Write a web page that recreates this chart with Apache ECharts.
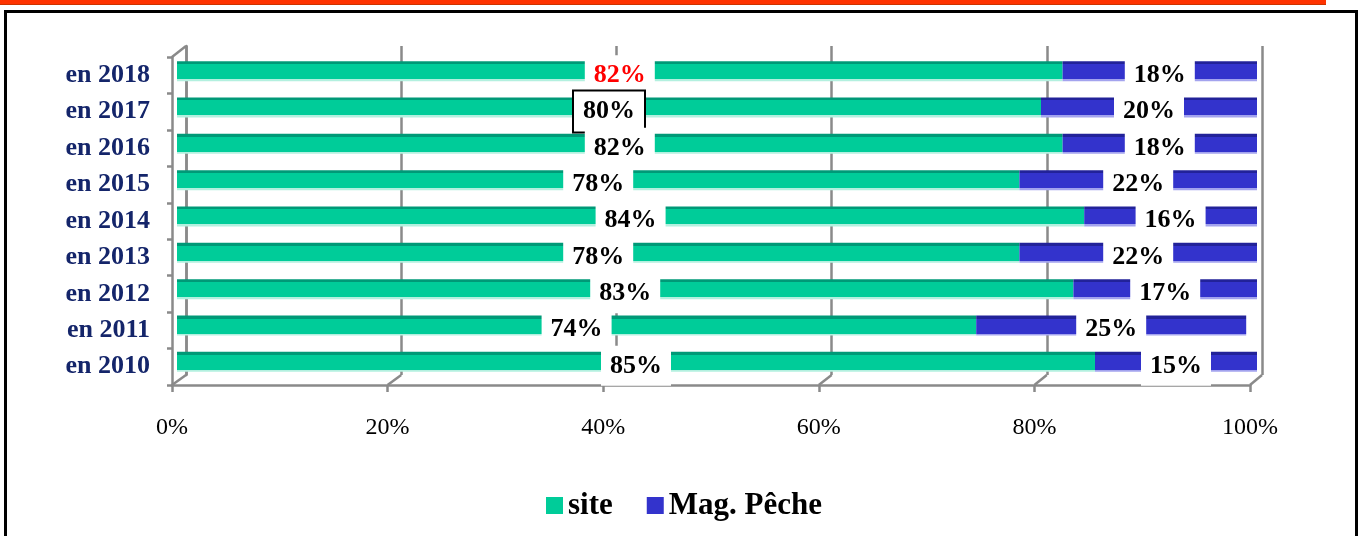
<!DOCTYPE html>
<html>
<head>
<meta charset="utf-8">
<script src="https://cdn.jsdelivr.net/npm/echarts@6/dist/echarts.min.js"></script>
<style>
  html, body { margin: 0; padding: 0; background: #fff; }
  #wrap { position: relative; width: 1361px; height: 536px; overflow: hidden; }
  #chart { position: absolute; left: 0; top: 0; width: 1361px; height: 536px; }
  #topbar { position: absolute; left: 0; top: 0; width: 1326px; height: 4px; background: #FF3300; border-bottom: 1px solid #CC3300; }
  #frame { position: absolute; left: 4px; top: 10px; width: 1348px; height: 600px; border: 3px solid #000; pointer-events: none; }
</style>
</head>
<body>
<div id="wrap">
  <div id="chart"></div>
  <div id="topbar"></div>
  <div id="frame"></div>
</div>
<script>
// data, top row first
const years      = ['en 2018', 'en 2017', 'en 2016', 'en 2015', 'en 2014', 'en 2013', 'en 2012', 'en 2011', 'en 2010'];
const siteValues = [82, 80, 82, 78, 84, 78, 83, 74, 85];
const magValues  = [18, 20, 18, 22, 16, 22, 17, 25, 15];
const seriesNames = ['site', 'Mag. Pêche'];
const xTicks     = [0, 20, 40, 60, 80, 100];

const FONT = "'Liberation Serif', 'Times New Roman', serif";
const GRAY = '#8A8A8A';

// 3D-ish layout: bars sit between the back wall and the front axes
const bars  = { left: 177, top: 53, width: 1080, height: 327 };
const back  = { left: 186, top: 46, width: 1076, height: 329 };
const front = { left: 172, top: 57, width: 1078, height: 328 };

const faceGrad = (dark, main, light) => new echarts.graphic.LinearGradient(0, 0, 0, 1, [
  { offset: 0, color: dark }, { offset: 0.15, color: dark },
  { offset: 0.15, color: main }, { offset: 0.9, color: main },
  { offset: 0.9, color: light }, { offset: 1, color: light }
]);

const labelBase = {
  show: true, position: 'inside', formatter: '{c}%',
  fontFamily: FONT, fontWeight: 'bold', fontSize: 26, lineHeight: 26,
  color: '#000', backgroundColor: '#fff', padding: [7, 9, 7, 9], offset: [0, 4]
};

const siteData = siteValues.map((v, i) => {
  if (i === 0) return { value: v, label: { color: '#FF0000' } };
  if (i === 1) return { value: v, label: { borderColor: '#000', borderWidth: 2 } };
  return v;
});

const chart = echarts.init(document.getElementById('chart'), null, { renderer: 'canvas' });

chart.setOption({
  animation: false,
  backgroundColor: 'transparent',
  grid: [
    Object.assign({}, bars),
    Object.assign({}, back),
    Object.assign({}, front)
  ],
  xAxis: [
    { gridIndex: 0, type: 'value', min: 0, max: 100, show: false },
    { gridIndex: 1, type: 'value', min: 0, max: 100, interval: 20,
      axisLine: { show: false }, axisTick: { show: false }, axisLabel: { show: false },
      splitLine: { show: true, lineStyle: { color: GRAY, width: 2.5 } } },
    { gridIndex: 2, type: 'value', min: 0, max: 100, interval: 20,
      axisLine: { show: true, lineStyle: { color: GRAY, width: 2.5 } },
      axisTick: { show: true, inside: false, length: 7, lineStyle: { color: GRAY, width: 2.5 } },
      splitLine: { show: false },
      axisLabel: { formatter: '{value}%', fontFamily: FONT, fontSize: 24, color: '#000', margin: 31 } }
  ],
  yAxis: [
    { gridIndex: 0, type: 'category', data: years, inverse: true, show: false },
    { gridIndex: 1, type: 'category', data: years, inverse: true,
      axisLine: { show: true, lineStyle: { color: GRAY, width: 2.5 } },
      axisTick: { show: false }, axisLabel: { show: false }, splitLine: { show: false } },
    { gridIndex: 2, type: 'category', data: years, inverse: true,
      axisLine: { show: true, lineStyle: { color: GRAY, width: 2.5 } },
      axisTick: { show: true, length: 5, lineStyle: { color: GRAY, width: 2.5 } },
      axisLabel: { fontFamily: FONT, fontWeight: 'bold', fontSize: 26, color: '#14256A', margin: 22 } }
  ],
  legend: {
    left: 541, top: 485, itemWidth: 17, itemHeight: 17, itemGap: 34, icon: 'rect',
    textStyle: { fontFamily: FONT, fontWeight: 'bold', fontSize: 31, color: '#000' },
    data: [
      { name: seriesNames[0], itemStyle: { color: '#00CC99' } },
      { name: seriesNames[1], itemStyle: { color: '#3333CC' } }
    ]
  },
  series: [
    { name: seriesNames[0], type: 'bar', stack: 'total', xAxisIndex: 0, yAxisIndex: 0,
      barWidth: 20, data: siteData, label: labelBase,
      itemStyle: { color: faceGrad('#009977', '#00CC99', '#B3F0DF') } },
    { name: seriesNames[1], type: 'bar', stack: 'total', xAxisIndex: 0, yAxisIndex: 0,
      barWidth: 20, data: magValues, label: labelBase,
      itemStyle: { color: faceGrad('#222299', '#3333CC', '#A3A3EE') } }
  ]
});

// connect front axes to the back wall (floor diagonals + top-left corner)
const frontBottom = front.top + front.height;
const backBottom  = back.top + back.height;
const lines = xTicks.map(v => ({
  type: 'line', z: 1,
  shape: {
    x1: chart.convertToPixel({ xAxisIndex: 2 }, v), y1: frontBottom,
    x2: chart.convertToPixel({ xAxisIndex: 1 }, v), y2: backBottom
  },
  style: { stroke: GRAY, lineWidth: 2.5 }
}));
lines.push({
  type: 'line', z: 1,
  shape: { x1: front.left, y1: front.top, x2: back.left, y2: back.top },
  style: { stroke: GRAY, lineWidth: 2.5 }
});
chart.setOption({ graphic: lines });
</script>
</body>
</html>
